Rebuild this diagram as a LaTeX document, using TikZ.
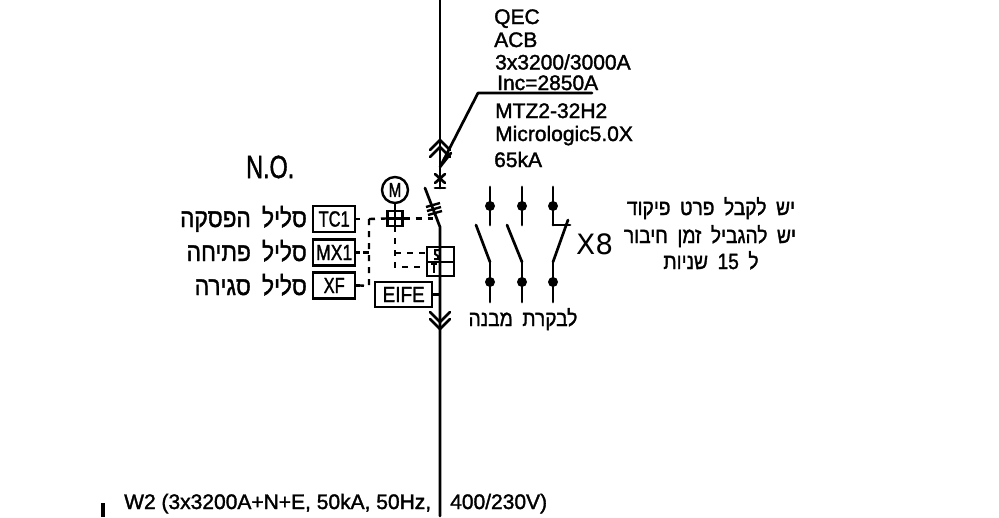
\documentclass[tikz,border=0pt]{standalone}
\usepackage{fontspec}
\setmainfont[FakeBold=1.6]{Liberation Sans}
\newfontfamily\thinfont{DejaVu Sans}
\newfontfamily\hebfont[Script=Hebrew,FakeBold=1.6]{Liberation Sans}
\TeXXeTstate=1
\newcommand{\heb}[1]{\scalebox{.87}[1]{\hebfont\spaceskip=.5em\relax\beginR #1\endR}}
\newcommand{\cadsize}[1]{\fontsize{#1}{#1}\selectfont}
\newcommand{\tall}[2]{\scalebox{#1}[1]{#2}}
\tikzset{
  wire/.style={line width=2.7pt,line cap=round,line join=round},
  thinw/.style={line width=2.4pt,line join=miter},
  ctrl/.style={line width=2.4pt,dash pattern=on 6pt off 6pt},
  labelbox/.style={draw,line width=2.4pt,minimum height=26pt,inner sep=0pt,anchor=west,font=\cadsize{22}},
  cad/.style={anchor=base west,inner sep=0pt,font=\cadsize{21}},
  hebr/.style={anchor=base east,inner sep=0pt,font=\cadsize{26}},
  hebc/.style={anchor=base,inner sep=0pt,font=\cadsize{22}},
  contact/.style={circle,fill=black,draw=none,minimum size=10pt,inner sep=0pt},
}
\begin{document}
\begin{tikzpicture}[x=1pt,y=-1pt]
\useasboundingbox (0,0) rectangle (999,517);
% main feeder
\coordinate (top) at (440,0);
\coordinate (cross) at (440,178);
\coordinate (brktop) at (440,188);
\coordinate (hinge) at (440,227);
\coordinate (bladeend) at (425,188);
\coordinate (bottom) at (440,516);
\draw[wire] (top) -- (brktop);
\draw[wire] (bladeend) -- (hinge) -- (bottom);
\draw[wire] (435,174) -- (445,183);
\draw[wire] (445,174) -- (435,183);
\draw[wire] (435,188) -- (445,188);
% upper chevrons
\draw[wire] (430,150) -- (440,140) -- (450,150);
\draw[wire] (430,157) -- (440,147) -- (450,157);
% lower chevrons
\draw[wire] (430,312) -- (440,322) -- (450,312);
\draw[wire] (430,319) -- (440,329) -- (450,319);
% blade ticks
\draw[thinw] (426,207) -- (440,203);
\draw[thinw] (427,211) -- (441,207);
\draw[thinw] (428,215) -- (442,211);
% motor
\node[draw,circle,line width=2.4pt,minimum size=26pt,inner sep=0pt,font=\cadsize{20}] (motor) at (395,190) {\tall{.75}{M}};
\node[draw,line width=2.4pt,minimum size=15pt,inner sep=0pt] (sq) at (395,218.5) {};
\draw[thinw] (motor.south) -- (sq.north);
\draw[thinw] (sq.north) -- (sq.south);
\draw[thinw] (sq.west) -- (sq.east);
\coordinate (sqb) at (395,232);
\draw[thinw] (sq.south) -- (sqb);
\coordinate (bkrin) at (433,218.5);
\draw[ctrl] (sq.east) -- (bkrin);
% trip unit box
\node[draw,line width=2.4pt,minimum width=27pt,minimum height=15pt,inner sep=0pt,anchor=north west] (s1) at (426,246) {};
\node[draw,line width=2.4pt,minimum width=27pt,minimum height=14pt,inner sep=0pt,anchor=north west] (s2) at (426,261) {};
\draw[line width=2pt] (439,250) -- (435,250) -- (435,254) -- (438,256) -- (438,259) -- (434,259);
\draw[line width=2pt] (434,264) -- (434,273);
\draw[line width=2pt] (431,264) -- (437,264);
\coordinate (dv) at (395,238);
\coordinate (dv1) at (395,253);
\coordinate (dv2) at (395,267);
\draw[ctrl] (dv) -- (dv2) -- (s2.west |- dv2);
\draw[ctrl] (dv1) -- (s1.west |- dv1);
% EIFE
\node[draw,line width=2.4pt,minimum width=57pt,minimum height=25pt,inner sep=0pt,anchor=west,font=\cadsize{22}] (eife) at (374,294.5) {\tall{.86}{EIFE}};
\coordinate (eifeout) at (440,294.5);
\draw[thinw] (eife.east) -- (eifeout);
% coils
\node[labelbox,minimum width=42pt] (tc) at (312,219) {\tall{.75}{TC1}};
\node[labelbox,minimum width=42pt] (mx) at (312,252.5) {\tall{.8}{MX1}};
\node[labelbox,minimum width=42pt] (xf) at (312,285.5) {\tall{.75}{XF}\hspace{12pt}};
\coordinate (tcs) at (360,219);
\coordinate (mxs) at (360,252.5);
\coordinate (xfs) at (360,285.5);
\draw[thinw] (tc.east) -- (tcs);
\draw[thinw] (mx.east) -- (mxs);
\draw[thinw] (xf.east) -- (xfs);
\coordinate (busT) at (369,219);
\coordinate (busM) at (369,252.5);
\coordinate (busB) at (369,286);
\draw[ctrl] (busT) -- (busB) -- (xfs);
\draw[ctrl] (busM) -- (mxs);
\draw[ctrl] (busT) -- (sq.west);
% contacts
\foreach \n/\x in {a/490,b/522,c/553}{
  \node[contact] (t\n) at (\x,206) {};
  \node[contact] (u\n) at (\x,282) {};
  \coordinate (tt\n) at (\x,187);
  \coordinate (tb\n) at (\x,225);
  \coordinate (ut\n) at (\x,262);
  \coordinate (ub\n) at (\x,302);
  \draw[wire] (tt\n) -- (tb\n);
  \draw[wire] (ut\n) -- (ub\n);
}
\coordinate (ba) at (476,225);
\coordinate (bb) at (507,225);
\coordinate (bc) at (568,220);
\coordinate (nc) at (570,225);
\draw[wire] (uta) -- (ba);
\draw[wire] (utb) -- (bb);
\draw[wire] (utc) -- (bc);
\draw[wire] (tbc) -- (nc);
% leader
\coordinate (la) at (592,93);
\coordinate (lb) at (478,93);
\coordinate (lc) at (440,167);
\coordinate (ld) at (451,153);
\draw[wire] (la) -- (lb) -- (lc) -- (ld);
% texts
\node[cad] (t1) at (494,24) {QEC};
\node[cad] (t2) at (494,47) {ACB};
\node[cad] (t3) at (495,69.5) {3x3200/3000A};
\node[cad] (t4) at (497,90) {Inc=2850A};
\node[cad] (t5) at (495,118) {MTZ2-32H2};
\node[cad] (t6) at (495,141) {Micrologic5.0X};
\node[cad] (t7) at (494,167) {65kA};
\node[anchor=base west,inner sep=0pt,font=\cadsize{32}] (no) at (246,178) {\tall{.73}{N.O.}};
\node[anchor=base west,inner sep=0pt,font=\thinfont\cadsize{28}] (x8) at (576,254) {X8};
\node[hebr] (h1) at (307,227) {\heb{סליל הפסקה}};
\node[hebr] (h2) at (307,261) {\heb{סליל פתיחה}};
\node[hebr] (h3) at (307,295) {\heb{סליל סגירה}};
\node[hebc] (h4) at (523,326) {\heb{לבקרת מבנה}};
\node[hebc] (h5) at (711,215) {\heb{יש לקבל פרט פיקוד}};
\node[hebc] (h6) at (710,243) {\heb{יש להגביל זמן חיבור}};
\node[hebc] (h7) at (711,269) {\heb{ל \beginL 15\endL{} שניות}};
\node[cad] (w2) at (124,509) {W2 (3x3200A+N+E, 50kA, 50Hz,};
\node[cad] (w3) at (450,509) {400/230V)};
\coordinate (barT) at (103,503);
\coordinate (barB) at (103,517);
\draw[line width=3.5pt] (barT) -- (barB);
\end{tikzpicture}
\end{document}
